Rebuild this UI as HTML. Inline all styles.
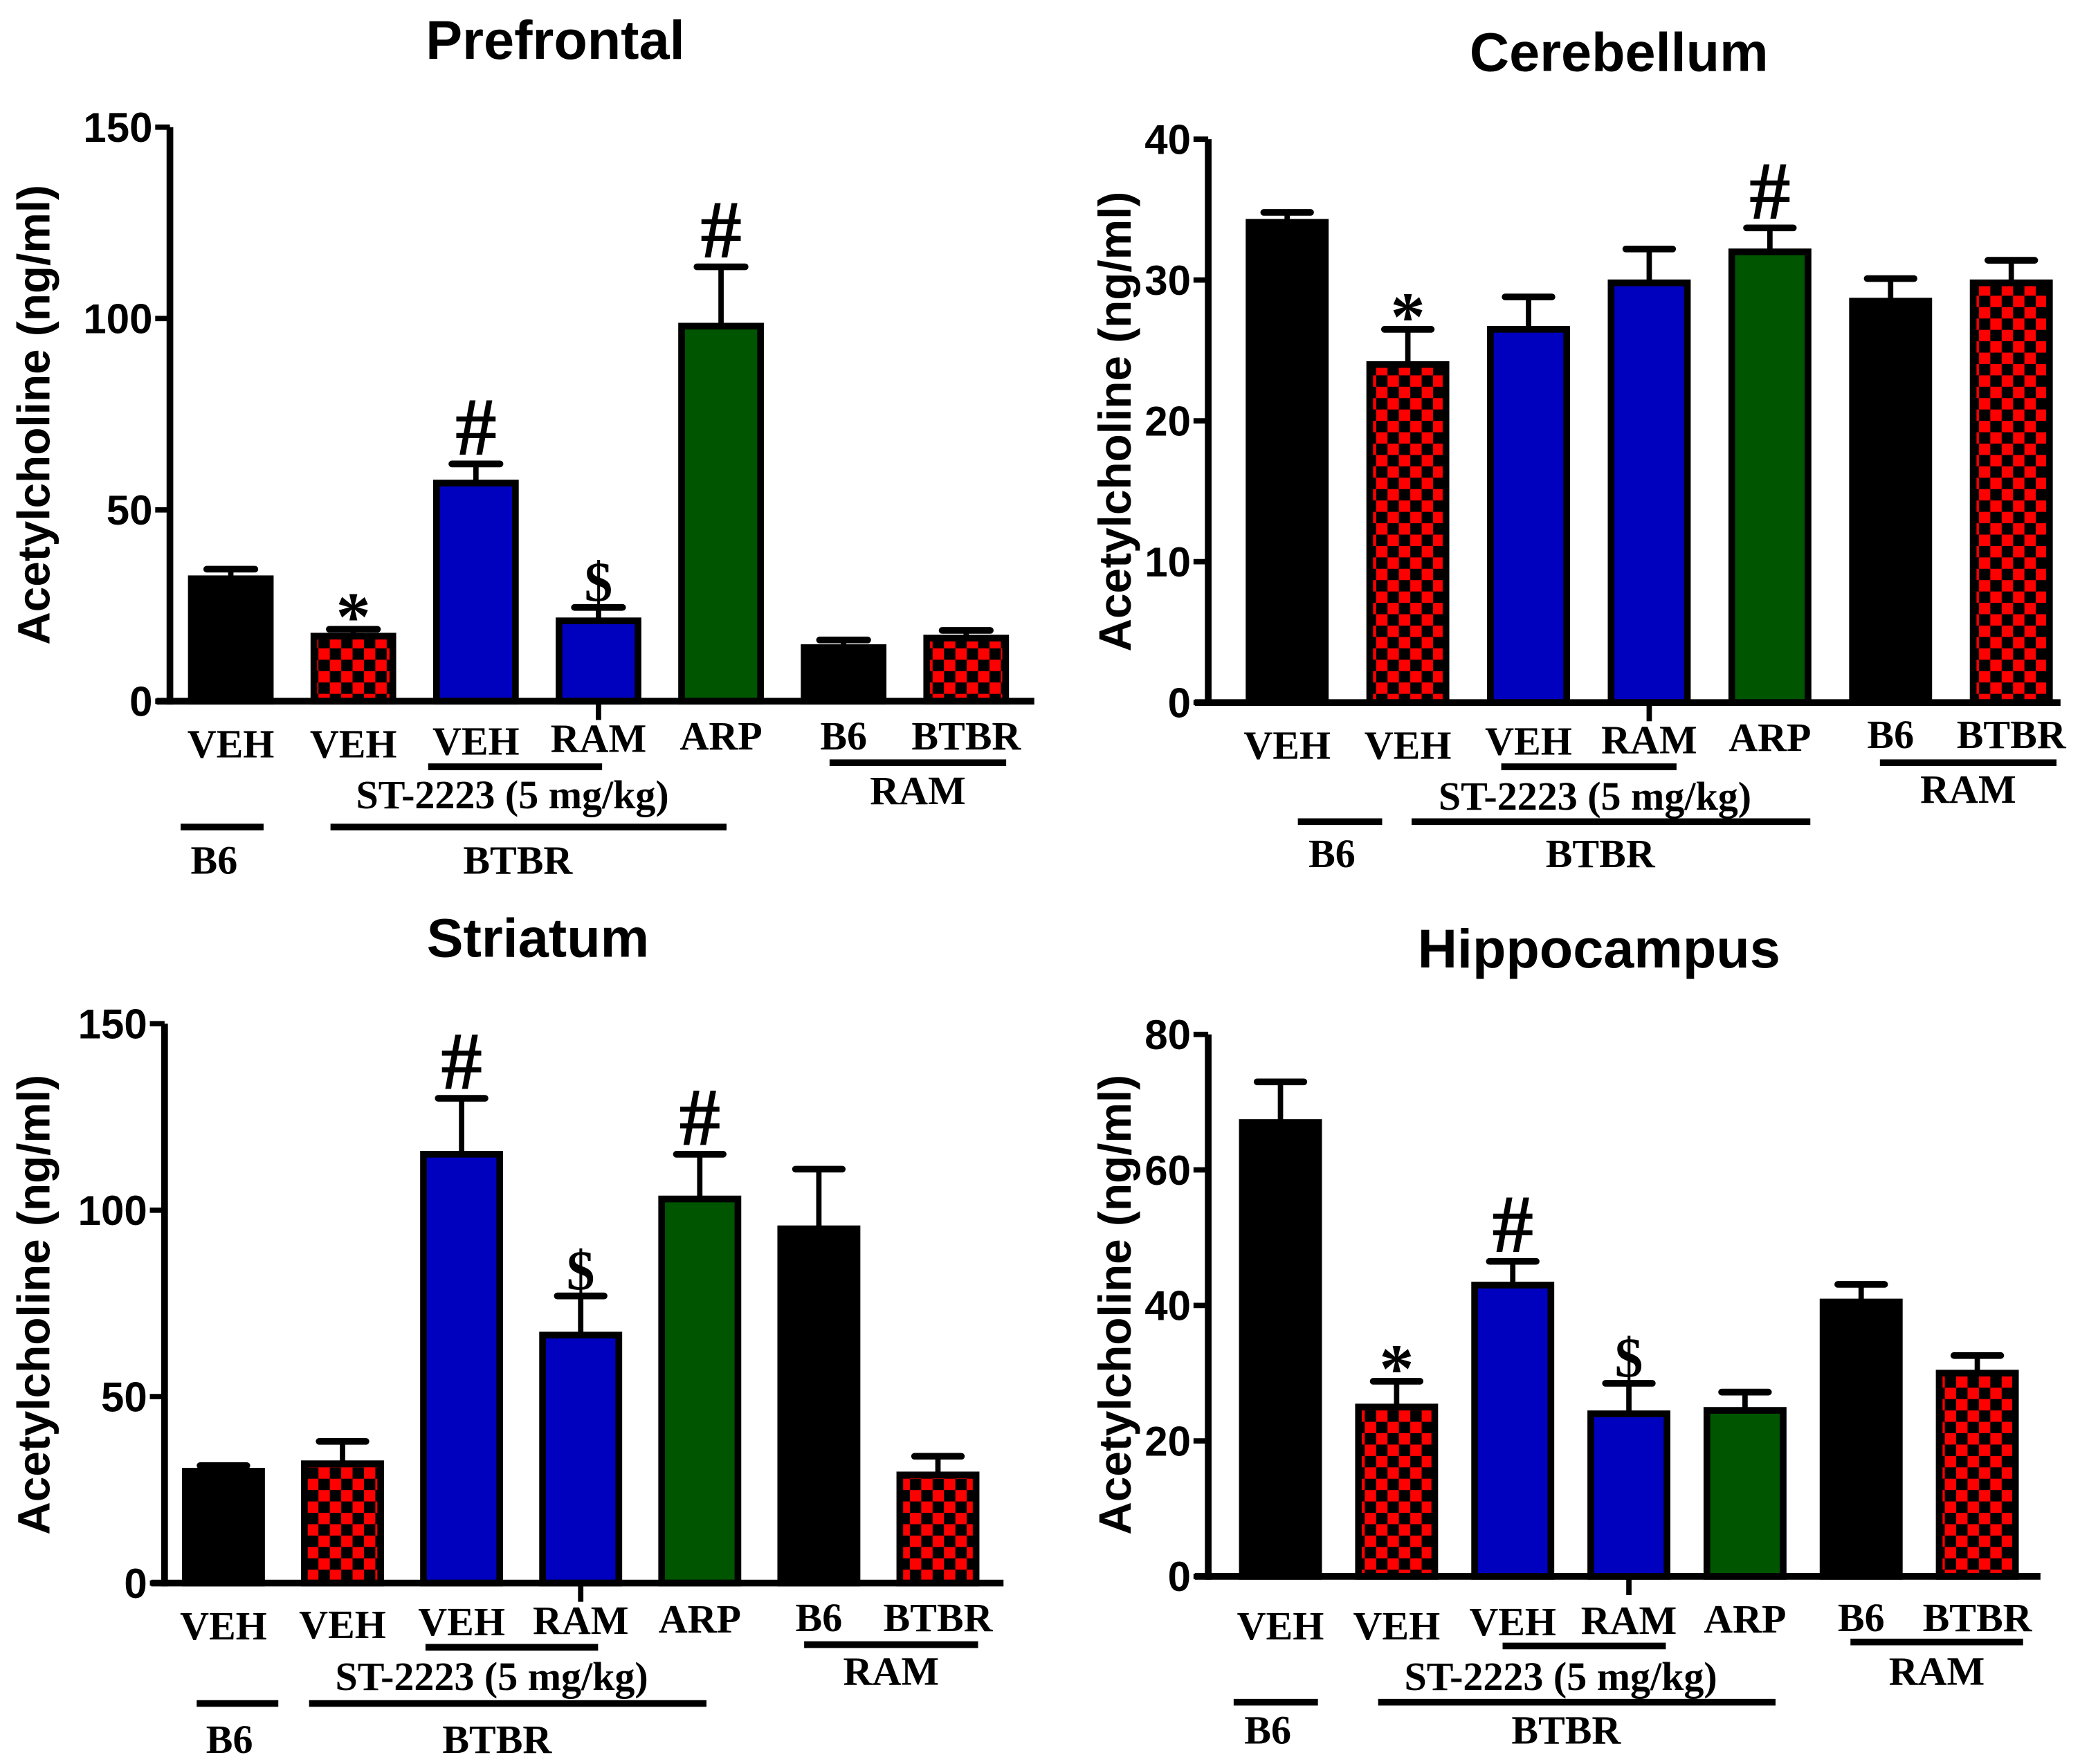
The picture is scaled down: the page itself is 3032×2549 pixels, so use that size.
<!DOCTYPE html>
<html><head><meta charset="utf-8"><style>
html,body{margin:0;padding:0;background:#fff;}
svg{display:block;}
.tick{font-family:"Liberation Sans",Arial,sans-serif;font-weight:bold;font-size:31px;}
.ttl{font-family:"Liberation Sans",Arial,sans-serif;font-weight:bold;font-size:41px;}
.ylab{font-family:"Liberation Sans",Arial,sans-serif;font-weight:bold;font-size:34px;}
.lab{font-family:"Liberation Serif","Times New Roman",serif;font-weight:bold;font-size:30px;}
.ann{font-family:"Liberation Serif","Times New Roman",serif;}
</style></head><body>
<svg id="fig" width="3032" height="2549" viewBox="0 0 1568 1318.2" preserveAspectRatio="none" xmlns="http://www.w3.org/2000/svg">
<defs>
<pattern id="chk" patternUnits="userSpaceOnUse" width="17" height="17" x="0" y="0">
<rect width="17" height="17" fill="#ff0000"/>
<rect width="8.5" height="8.5" fill="#000"/>
<rect x="8.5" y="8.5" width="8.5" height="8.5" fill="#000"/>
</pattern>
</defs>
</svg>
<script>
// Shared categories
const categories = ["B6 VEH","BTBR VEH","BTBR ST-2223 VEH","BTBR ST-2223 RAM","BTBR ARP","B6 RAM","BTBR RAM"];
const fills = ["#000","chk","#0000bf","#0000bf","#005500","#000","chk"];
// Prefrontal
const pfMeans = [32, 17, 57, 21, 98, 14, 16.5];
const pfErr = [2.5, 1.8, 5, 3.5, 15.5, 2, 2];
const pfTicks = [0, 50, 100, 150];
const pfMarks = ["", "*", "#", "$", "#", "", ""];
// Cerebellum
const cbMeans = [34.1, 24, 26.5, 29.8, 32, 28.5, 29.8];
const cbErr = [0.7, 2.5, 2.3, 2.4, 1.7, 1.6, 1.6];
const cbTicks = [0, 10, 20, 30, 40];
const cbMarks = ["", "*", "", "", "#", "", ""];
// Striatum
const stMeans = [30, 32, 115, 66.5, 103, 95, 29];
const stErr = [1.5, 6, 15, 10.5, 12, 16, 5];
const stTicks = [0, 50, 100, 150];
const stMarks = ["", "", "#", "$", "#", "", ""];
// Hippocampus
const hpMeans = [67, 25, 43, 24, 24.5, 40.5, 30];
const hpErr = [6, 3.8, 3.5, 4.5, 2.7, 2.6, 2.6];
const hpTicks = [0, 20, 40, 60, 80];
const hpMarks = ["", "*", "#", "$", "", "", ""];

const NS = "http://www.w3.org/2000/svg";
const svg = document.getElementById("fig");
function mk(tag, attrs, parent, txt){
  const e = document.createElementNS(NS, tag);
  for (const k in attrs) e.setAttribute(k, attrs[k]);
  if (txt !== undefined) e.textContent = txt;
  (parent || svg).appendChild(e);
  return e;
}

const panels = [
  {name:"prefrontal", title:"Prefrontal", tx:415, ty:44, ax:127, top:95, base:524, xend:773, max:150, x0:172.5, dx:91.6, bw:64,
   means:pfMeans, err:pfErr, ticks:pfTicks, marks:pfMarks, ylx:37, yly:310, row1:[566,566,564,562,560,560,560],
   vrLine:[320,450,573], stY:604, btLine:[247,543,618], btY:653, b6Line:[135,197,618], b6Y:653, ramLine:[620,752,570], ramY:601},
  {name:"cerebellum", title:"Cerebellum", tx:1210, ty:53, ax:903, top:104, base:525, xend:1540, max:40, x0:962, dx:90.2, bw:62,
   means:cbMeans, err:cbErr, ticks:cbTicks, marks:cbMarks, ylx:845, yly:315, row1:[567,567,564,563,561,559,559],
   vrLine:[1122,1253,573], stY:605, btLine:[1055,1353,614], btY:648, b6Line:[970,1033,614], b6Y:648, ramLine:[1405,1537,570], ramY:600},
  {name:"striatum", title:"Striatum", tx:402, ty:715, ax:123, top:765, base:1183, xend:750, max:150, x0:167, dx:89, bw:62,
   means:stMeans, err:stErr, ticks:stTicks, marks:stMarks, ylx:37, yly:975, row1:[1225,1224,1222,1221,1220,1219,1219],
   vrLine:[318,447,1231], stY:1263, btLine:[231,528,1273], btY:1310, b6Line:[147,208,1273], b6Y:1310, ramLine:[601,731,1229], ramY:1259},
  {name:"hippocampus", title:"Hippocampus", tx:1195, ty:723, ax:903, top:773, base:1178, xend:1525, max:80, x0:957, dx:86.8, bw:62,
   means:hpMeans, err:hpErr, ticks:hpTicks, marks:hpMarks, ylx:845, yly:975, row1:[1225,1225,1222,1221,1220,1219,1219],
   vrLine:[1123,1245,1230], stY:1263, btLine:[1030,1327,1272], btY:1303, b6Line:[922,985,1272], b6Y:1303, ramLine:[1383,1512,1227], ramY:1259}
];
const labels1 = ["VEH","VEH","VEH","RAM","ARP","B6","BTBR"];

panels.forEach(p => {
  const g = mk("g", {});
  
  
  const y = v => p.base - (v / p.max) * (p.base - p.top);
  const x = i => p.x0 + i * p.dx;

  const t = mk("text", {x:p.tx, y:p.ty, "text-anchor":"middle", class:"ttl"}, g, p.title);
  
  

  const yl = mk("text", {x:0, y:0, "text-anchor":"middle", class:"ylab", transform:`translate(${p.ylx},${p.yly}) rotate(-90)`}, g, "Acetylcholine (ng/ml)");
  
  

  p.means.forEach((m, i) => {
    const cx = x(i), yt = y(m), ye = y(m + p.err[i]);
    const el = mk("line", {x1:cx, x2:cx, y1:yt, y2:ye, stroke:"#000", "stroke-width":4}, g);
    
    
    const cap = mk("line", {x1:cx-p.bw/4-2, x2:cx+p.bw/4+2, y1:ye, y2:ye, stroke:"#000", "stroke-width":5, "stroke-linecap":"round"}, g);
    
    
    const f = fills[i] === "chk" ? "url(#chk)" : fills[i];
    const b = mk("rect", {x:cx-p.bw/2+2.5, y:yt, width:p.bw-5, height:p.base-yt, fill:f, stroke:"#000", "stroke-width":5}, g);
    
    
    if (p.marks[i]) {
      const s = p.marks[i];
      const fs = s === "#" ? 62 : (s === "$" ? 42 : 52);
      const off = s === "#" ? 7 : (s === "$" ? 5 : -8);
      const a = mk("text", {x:cx, y:ye - off, "text-anchor":"middle", class:"ann", "font-size":fs, "font-weight":"bold"}, g, s);
      
      
    }
    const l = mk("text", {x:cx, y:p.row1[i], "text-anchor":"middle", class:"lab"}, g, labels1[i]);
    
    
  });

  const ya = mk("line", {x1:p.ax, x2:p.ax, y1:p.top, y2:p.base+2.5, stroke:"#000", "stroke-width":5}, g);
  
  
  const xa = mk("line", {x1:p.ax-10, x2:p.xend, y1:p.base, y2:p.base, stroke:"#000", "stroke-width":5}, g);
  
  
  const st = mk("line", {x1:x(3), x2:x(3), y1:p.base, y2:p.base+14, stroke:"#000", "stroke-width":4}, g);
  
  
  p.ticks.forEach(v => {
    const tk = mk("line", {x1:p.ax-11, x2:p.ax, y1:y(v), y2:y(v), stroke:"#000", "stroke-width":4}, g);
    
    
    const tl = mk("text", {x:p.ax-13, y:y(v)+11, "text-anchor":"end", class:"tick"}, g, String(v));
    
    
  });

  const lines = [["veh-ram-line", p.vrLine], ["btbr-line", p.btLine], ["b6-line", p.b6Line], ["ram-line", p.ramLine]];
  lines.forEach(([n, L]) => {
    const e = mk("line", {x1:L[0], x2:L[1], y1:L[2], y2:L[2], stroke:"#000", "stroke-width":5}, g);
    
    
  });
  const grp = [
    ["st-2223-label", (p.btLine[0]+p.btLine[1])/2 - 12, p.stY, "ST-2223 (5 mg/kg)"],
    ["btbr-group-label", (p.btLine[0]+p.btLine[1])/2 - 8, p.btY, "BTBR"],
    ["b6-group-label", (p.b6Line[0]+p.b6Line[1])/2 - 6, p.b6Y, "B6"],
    ["ram-group-label", (p.ramLine[0]+p.ramLine[1])/2, p.ramY, "RAM"]
  ];
  grp.forEach(([n, gx, gy, s]) => {
    const e = mk("text", {x:gx, y:gy, "text-anchor":"middle", class:"lab"}, g, s);
    
    
  });
});
</script>
</body></html>
